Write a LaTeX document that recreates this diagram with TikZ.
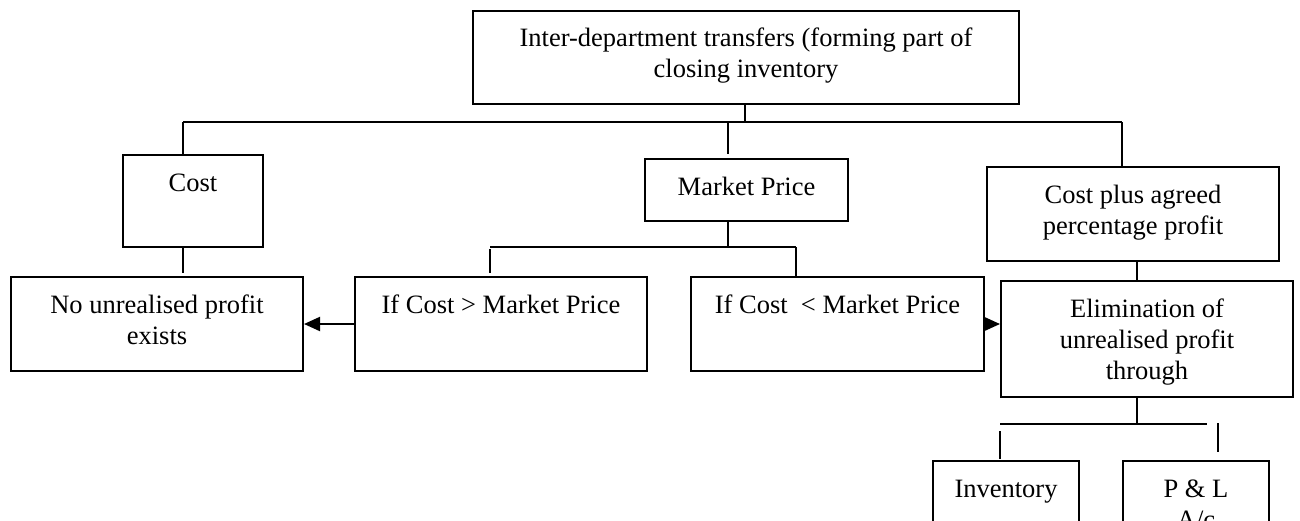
\documentclass[tikz,border=0pt]{standalone}
\usepackage{fontspec}
\setmainfont{Liberation Serif}
\usepackage{tikz}
\usetikzlibrary{positioning,arrows.meta,calc}
\tikzset{
  box/.style={draw, line width=2pt, align=center, anchor=north west,
              inner xsep=0pt, inner ysep=0pt, text height=36pt,
              font=\fontsize{26.5}{31}\selectfont},
  lnk/.style={line width=2pt},
  arr/.style={lnk, -{Triangle[length=16pt,width=14pt]}},
}
\begin{document}
\begin{tikzpicture}[x=1pt, y=-1pt]
  \useasboundingbox (0,0) rectangle (1300,520);
  \clip (0,0) rectangle (1300,520);
  % boxes (baseline is the last line of the text)
  \node[box, minimum width=546pt, text height=66pt, text depth=27pt] (top) at (472,10)
       {Inter-department transfers (forming part of\\closing inventory};
  \node[box, minimum width=140pt, text depth=56pt] (cost) at (122,154) {Cost};
  \node[box, minimum width=203pt, text depth=26pt] (market) at (644,158) {Market Price};
  \node[box, minimum width=292pt, text height=67pt, text depth=27pt] (cplus) at (986,166)
       {Cost plus agreed\\percentage profit};
  \node[box, minimum width=292pt, text height=67pt, text depth=27pt] (noun) at (10,276)
       {No unrealised profit\\exists};
  \node[box, minimum width=292pt, text depth=58pt, anchor=west, right=50pt of noun] (ifgt)
       {If Cost > Market Price};
  \node[box, minimum width=293pt, text depth=58pt, anchor=west, right=42pt of ifgt] (iflt)
       {If Cost~~< Market Price};
  \node[box, minimum width=292pt, text height=98pt, text depth=18pt] (elim) at (1000,280)
       {Elimination of\\unrealised profit\\through};
  \node[box, minimum width=146pt, text depth=100pt] (inv) at (932,460) {Inventory};
  \node[box, minimum width=146pt, text height=67pt, text depth=69pt] (pnl) at (1122,460)
       {P \& L\\A/c};
  % junctions
  \coordinate (busT) at (745,122);
  \coordinate (busL) at (183,122);
  \coordinate (busM) at (728,122);
  \coordinate (busR) at (1122,122);
  \coordinate (subL) at (490,247);
  \coordinate (subM) at (728,247);
  \coordinate (subR) at (796,247);
  \coordinate (botL) at (1000,424);
  \coordinate (botM) at (1137,424);
  \coordinate (botR) at (1207,424);
  \coordinate (pldrop) at (1218,423);
  % tree lines
  \draw[lnk] (top.south -| busT) -- (busT);
  \draw[lnk] (busL) -- (busR);
  \draw[lnk] (busL) -- (busL |- cost.north);
  \draw[lnk] (busM) -- ([yshift=4pt]busM |- market.north);
  \draw[lnk] (busR) -- (busR |- cplus.north);
  \draw[lnk] (busL |- cost.south) -- ([yshift=3pt]busL |- noun.north);
  \draw[lnk] (market.south -| subM) -- (subM);
  \draw[lnk] (subL) -- (subR);
  \draw[lnk] ([yshift=-2pt]subL) -- ([yshift=3pt]subL |- ifgt.north);
  \draw[lnk] (subR) -- (subR |- iflt.north);
  \draw[arr] (ifgt.west) -- (noun.east);
  \draw[arr] (iflt.east) -- (iflt.east -| elim.west);
  \draw[lnk] ([xshift=4pt]cplus.south) -- ([xshift=4pt]cplus.south |- elim.north);
  \draw[lnk] (elim.south -| botM) -- (botM);
  \draw[lnk] (botL) -- (botR);
  \draw[lnk] ([yshift=-7pt]botL) -- ([yshift=1pt]botL |- inv.north);
  \draw[lnk] (pldrop) -- ([yshift=8pt]pldrop |- pnl.north);
\end{tikzpicture}
\end{document}
